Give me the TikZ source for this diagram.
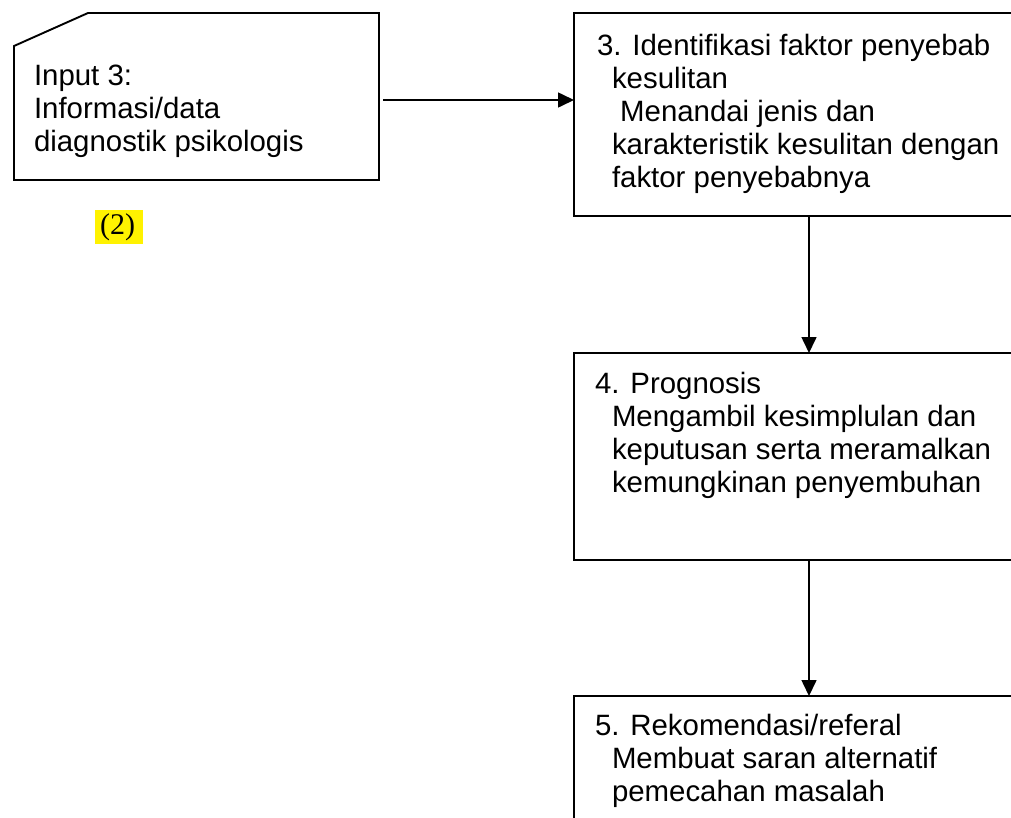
\documentclass[tikz,border=0pt]{standalone}
\usepackage{fontspec}
\setmainfont{Liberation Sans}
\newfontfamily\serifnum{Liberation Serif}
\usetikzlibrary{arrows.meta}
\begin{document}
\begin{tikzpicture}[x=1pt,y=-1pt,
  box/.style={draw, rectangle, inner sep=0pt, outer sep=0pt, line width=1.9pt},
  ghost/.style={rectangle, inner sep=0pt, outer sep=0pt},
  arr/.style={-{Triangle[length=16pt,width=15pt]}, line width=1.6pt},
  txt/.style={anchor=base west, inner sep=0pt, outer sep=0pt, font=\fontsize{29.4}{33}\selectfont},
  hl/.style={fill=yellow, inner sep=0pt, anchor=north west, font=\serifnum\fontsize{30}{30}\selectfont}]
\useasboundingbox (0,0) rectangle (1011,817);
\clip (0,0) rectangle (1011,817);

% input (chamfered) box
\node[ghost, minimum width=365pt, minimum height=167pt, anchor=north west] (inp) at (14,13) {};
\draw[line width=1.9pt] ([xshift=74pt]inp.north west) -- (inp.north east) -- (inp.south east)
  -- (inp.south west) -- ([yshift=-33pt]inp.north west) -- cycle;
\node[txt] (tin) at (34,85) {\vtop{\hbox{Input 3:}\hbox{Informasi/data}\hbox{diagnostik psikologis}}};

% label (2)
\node[hl, minimum width=48pt, minimum height=34pt] (lbl) at (95,210) {\kern-3pt(2)};

% process boxes (run past the right edge)
\node[box, minimum width=460pt, minimum height=203pt, anchor=north west] (b1) at (574,13) {};
\node[box, minimum width=460pt, minimum height=207pt, anchor=north west] (b2) at (574,353) {};
\node[box, minimum width=460pt, minimum height=200pt, anchor=north west] (b3) at (574,696) {};

\node[txt] (t1) at (597,55) {\vtop{%
  \hbox{3. Identifikasi faktor penyebab}%
  \hbox{\kern15pt kesulitan}%
  \hbox{\kern15pt\ Menandai jenis dan}%
  \hbox{\kern15pt karakteristik kesulitan dengan}%
  \hbox{\kern15pt faktor penyebabnya}}};
\node[txt] (t2) at (595,393) {\vtop{%
  \hbox{4. Prognosis}%
  \hbox{\kern17pt Mengambil kesimplulan dan}%
  \hbox{\kern17pt keputusan serta meramalkan}%
  \hbox{\kern17pt kemungkinan penyembuhan}}};
\node[txt] (t3) at (595,735) {\vtop{%
  \hbox{5. Rekomendasi/referal}%
  \hbox{\kern17pt Membuat saran alternatif}%
  \hbox{\kern17pt pemecahan masalah}}};

% connectors
\coordinate (ay) at (0,100);
\coordinate (cx) at (809,0);
\draw[arr, shorten <=4pt] (inp.east |- ay) -- (b1.west |- ay);
\draw[arr] (b1.south -| cx) -- (b2.north -| cx);
\draw[arr] (b2.south -| cx) -- (b3.north -| cx);
\end{tikzpicture}
\end{document}
